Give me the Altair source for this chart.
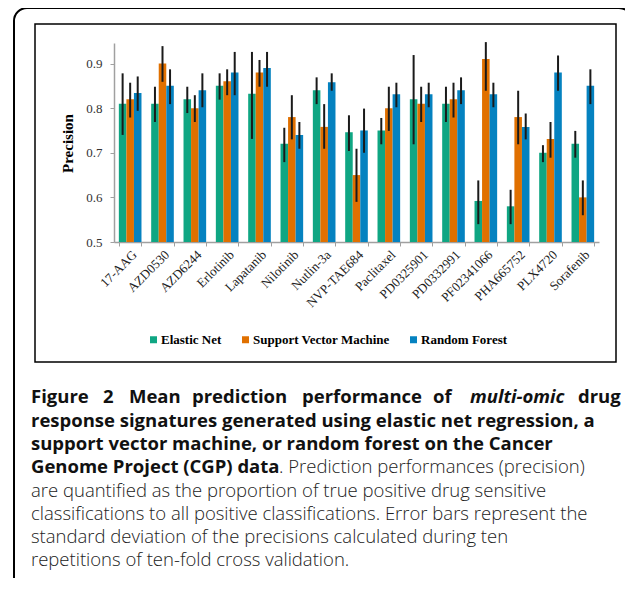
import altair as alt
import pandas as pd

drugs = ["17-AAG", "AZD0530", "AZD6244", "Erlotinib", "Lapatanib", "Nilotinib",
         "Nutlin-3a", "NVP-TAE684", "Paclitaxel", "PD0325901", "PD0332991",
         "PF02341066", "PHA665752", "PLX4720", "Sorafenib"]
methods = ["Elastic Net", "Support Vector Machine", "Random Forest"]
colors = ["#0FA683", "#E07000", "#0582C0"]

en_mean = [0.810, 0.810, 0.820, 0.850, 0.832, 0.720, 0.840, 0.746, 0.750, 0.820, 0.810, 0.592, 0.580, 0.700, 0.720]
en_lo   = [0.740, 0.769, 0.789, 0.819, 0.731, 0.679, 0.809, 0.704, 0.719, 0.719, 0.769, 0.540, 0.540, 0.679, 0.689]
en_hi   = [0.878, 0.848, 0.848, 0.878, 0.926, 0.756, 0.869, 0.784, 0.778, 0.919, 0.848, 0.638, 0.617, 0.717, 0.749]

svm_mean = [0.820, 0.900, 0.800, 0.860, 0.880, 0.780, 0.758, 0.650, 0.800, 0.810, 0.820, 0.910, 0.780, 0.731, 0.600]
svm_lo   = [0.779, 0.859, 0.769, 0.829, 0.848, 0.730, 0.709, 0.590, 0.749, 0.769, 0.779, 0.839, 0.719, 0.689, 0.560]
svm_hi   = [0.857, 0.939, 0.829, 0.887, 0.908, 0.829, 0.809, 0.709, 0.848, 0.848, 0.857, 0.948, 0.839, 0.769, 0.638]

rf_mean = [0.834, 0.850, 0.840, 0.880, 0.890, 0.740, 0.858, 0.750, 0.831, 0.831, 0.840, 0.831, 0.758, 0.880, 0.850]
rf_lo   = [0.794, 0.809, 0.802, 0.829, 0.848, 0.709, 0.839, 0.700, 0.802, 0.802, 0.809, 0.802, 0.730, 0.839, 0.809]
rf_hi   = [0.871, 0.887, 0.878, 0.926, 0.926, 0.769, 0.878, 0.799, 0.857, 0.857, 0.869, 0.857, 0.788, 0.918, 0.887]

y_ticks = [0.5, 0.6, 0.7, 0.8, 0.9]

# caption segments: (text, page x, page y)
caption_bold = [
    ("Figure", 31, 397), ("2", 103, 397), ("Mean", 129, 397), ("prediction", 192, 397),
    ("performance", 302, 397), ("of", 433, 397), ("drug", 578, 397),
    ("response signatures generated using elastic net regression, a", 31, 421),
    ("support vector machine, or random forest on the Cancer", 31, 444),
    ("Genome Project (CGP) data", 31, 467),
]
caption_italic = [("multi-omic", 470, 397)]
caption_regular = [
    (". Prediction performances (precision)", 279, 467),
    ("are quantified as the proportion of true positive drug sensitive", 31, 491),
    ("classifications to all positive classifications. Error bars represent the", 31, 514),
    ("standard deviation of the precisions calculated during ten", 31, 537),
    ("repetitions of ten-fold cross validation.", 31, 560),
]

rows = []
for series, (m, lo, hi) in zip(methods, [(en_mean, en_lo, en_hi), (svm_mean, svm_lo, svm_hi), (rf_mean, rf_lo, rf_hi)]):
    for d, a, b, c in zip(drugs, m, lo, hi):
        rows.append({"drug": d, "method": series, "mean": a, "lo": b, "hi": c})
df = pd.DataFrame(rows)

OX, OY = 114, 43  # page position of plot origin
W, H = 485, 199
serif = "Liberation Serif"
capfont = "Open Sans"

xenc = alt.X("drug:N", sort=drugs,
             scale=alt.Scale(paddingInner=0.3, paddingOuter=0.15),
             axis=alt.Axis(title=None, labelAngle=315, labelFont=serif, labelFontSize=13,
                           labelColor="#222", domainColor="#a0a0a0", tickColor="#a0a0a0",
                           tickSize=4, tickBand="extent", labelPadding=2, domainWidth=1.5))
xoff = alt.XOffset("method:N", sort=methods, scale=alt.Scale(paddingInner=0, paddingOuter=0))

bars = alt.Chart(df).mark_bar().encode(
    x=xenc, xOffset=xoff,
    y=alt.Y("mean:Q", scale=alt.Scale(domain=[0.5, 0.946], nice=False, zero=False),
            axis=alt.Axis(values=y_ticks, format=".1f", grid=False, labelFont=serif,
                          labelFontSize=13, labelColor="#333", domainColor="#a0a0a0",
                          tickColor="#a0a0a0", tickSize=4, labelPadding=8, domainWidth=1.5,
                          title="Precision", titleFont=serif, titleFontSize=15,
                          titleFontWeight="bold", titleColor="black", titleAngle=270,
                          titleX=-47, titleY=100, titleAlign="center", titleBaseline="middle")),
    y2=alt.datum(0.5),
    color=alt.Color("method:N", sort=methods, scale=alt.Scale(domain=methods, range=colors),
                    legend=alt.Legend(title=None, orient="none", legendX=33, legendY=290,
                                      direction="horizontal", symbolType="square",
                                      symbolSize=49, symbolStrokeWidth=0, symbolOpacity=1,
                                      labelFont=serif, labelFontSize=13, labelFontWeight="bold",
                                      labelColor="black", columnPadding=17, labelOffset=1,
                                      padding=0)),
)

errs = alt.Chart(df).mark_rule(color="#1a1a1a", strokeWidth=2).encode(
    x=alt.X("drug:N", sort=drugs), xOffset=alt.XOffset("method:N", sort=methods),
    y="lo:Q", y2="hi:Q",
)

one = pd.DataFrame({"a": [0]})
inner_box = alt.Chart(one).mark_rect(fillOpacity=0, stroke="black", strokeWidth=1.5).encode(
    x=alt.value(35 - OX), x2=alt.value(616 - OX), y=alt.value(24 - OY), y2=alt.value(362 - OY))
outer_box = alt.Chart(one).mark_rect(fillOpacity=0, stroke="black", strokeWidth=2,
                                     cornerRadius=13).encode(
    x=alt.value(14 - OX), x2=alt.value(632 - OX), y=alt.value(8 - OY), y2=alt.value(605 - OY))

def text_layers(items, weight, style, size, color):
    out = []
    for t, px, py in items:
        out.append(alt.Chart(one).mark_text(align="left", baseline="middle", font=capfont,
                                            fontSize=size, fontWeight=weight, fontStyle=style,
                                            color=color).encode(
            x=alt.value(px - OX), y=alt.value(py - OY), text=alt.value(t)))
    return out

caps = (text_layers(caption_bold, "bold", "normal", 18.5, "#111")
        + text_layers(caption_italic, "bold", "italic", 18.5, "#111")
        + text_layers(caption_regular, 300, "normal", 18.5, "#222"))

chart = alt.layer(outer_box, inner_box, bars, errs, *caps).properties(
    width=W, height=H,
    autosize=alt.AutoSizeParams(type="none"),
    padding={"left": OX - 8, "top": OY - 8, "right": 617 - (OX - 8) - W, "bottom": 570 - (OY - 8) - H},
).configure_view(stroke=None)

chart.save("out.html", embed_options={"renderer": "svg", "actions": False})
